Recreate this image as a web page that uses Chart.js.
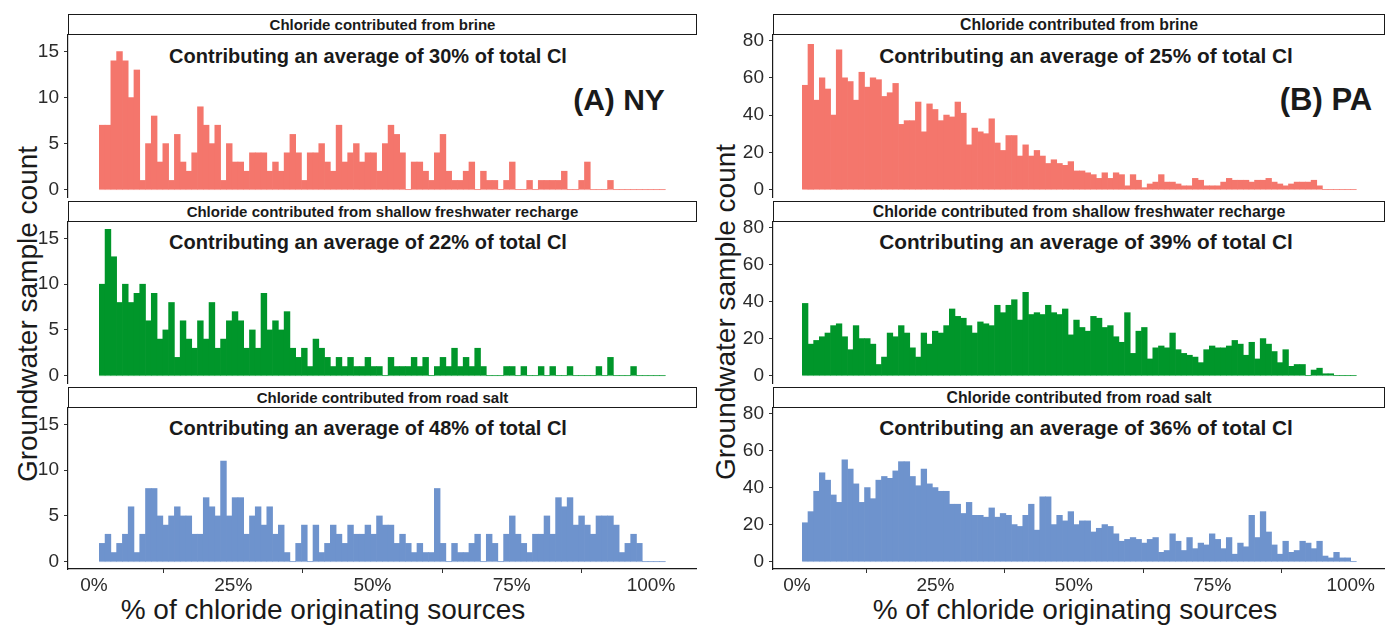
<!DOCTYPE html>
<html><head><meta charset="utf-8">
<script src="https://cdn.jsdelivr.net/npm/chart.js@4.4.1/dist/chart.umd.min.js"></script>
<style>
body{margin:0;background:#fff;width:1387px;height:626px;position:relative;overflow:hidden;font-family:'Liberation Sans',Arial,sans-serif;}
canvas{position:absolute;}
.strip{position:absolute;box-sizing:border-box;border:1.5px solid #1a1a1a;background:#fff;font-weight:bold;color:#1a1a1a;display:flex;align-items:center;justify-content:center;}
.sl{font-size:15px;}
.sr{font-size:15.8px;}
.t{position:absolute;transform:translate(-50%,-50%);white-space:nowrap;color:#1a1a1a;}
.sub{font-weight:bold;font-size:20px;}
.subr{font-weight:bold;font-size:20.8px;}
.tag{font-weight:bold;font-size:30px;}
.tagr{font-weight:bold;font-size:31px;}
.axt{font-size:28px;}
.rot{transform:translate(-50%,-50%) rotate(-90deg);}
</style></head><body>

<div class="strip sl" style="left:68px;top:14px;width:629px;height:21px;">Chloride contributed from brine</div>
<div class="strip sl" style="left:68px;top:201px;width:629px;height:21px;">Chloride contributed from shallow freshwater recharge</div>
<div class="strip sl" style="left:68px;top:387px;width:629px;height:21px;">Chloride contributed from road salt</div>
<div class="strip sr" style="left:773px;top:14px;width:612px;height:21px;">Chloride contributed from brine</div>
<div class="strip sr" style="left:773px;top:201px;width:612px;height:21px;">Chloride contributed from shallow freshwater recharge</div>
<div class="strip sr" style="left:773px;top:387px;width:612px;height:21px;">Chloride contributed from road salt</div>

<div class="t sub" style="left:368px;top:56px;">Contributing an average of 30% of total Cl</div>
<div class="t sub" style="left:368px;top:242px;">Contributing an average of 22% of total Cl</div>
<div class="t sub" style="left:368px;top:428px;">Contributing an average of 48% of total Cl</div>
<div class="t subr" style="left:1086px;top:56px;">Contributing an average of 25% of total Cl</div>
<div class="t subr" style="left:1086px;top:242px;">Contributing an average of 39% of total Cl</div>
<div class="t subr" style="left:1086px;top:428px;">Contributing an average of 36% of total Cl</div>

<div class="t tag" style="left:619px;top:100px;">(A) NY</div>
<div class="t tagr" style="left:1326px;top:100px;">(B) PA</div>

<div class="t axt rot" style="left:28px;top:314px;">Groundwater sample count</div>
<div class="t axt rot" style="left:726px;top:312px;">Groundwater sample count</div>
<div class="t axt" style="left:323px;top:610px;">% of chloride originating sources</div>
<div class="t axt" style="left:1075px;top:610px;">% of chloride originating sources</div>

<script>
// ---- data (counts per histogram bin, 98 bins each) ----
const nyBrine = [7,7,14,15,14,10,13,1,5,8,3,5,1,6,3,2,4,9,7,5,7,1,5,3,3,2,4,4,4,2,3,2,4,6,4,1,4,4,5,3,2,7,3,4,5,3,4,4,2,5,
                 7,6,4,0,3,3,2,1,4,6,2,1,1,2,3,0,2,1,1,0,1,3,0,0,1,0,1,1,1,1,2,0,0,1,3,0,0,0,1,0,0,0,0,0,0,0,0,0];
const nyFresh = [10,16,13,8,10,8,9,10,6,9,4,5,8,2,6,4,3,6,4,8,3,4,6,7,6,3,5,3,9,5,6,5,7,3,2,3,1,4,3,2,1,2,1,2,1,1,2,1,1,0,
                 2,1,1,1,2,1,2,0,1,2,1,3,1,2,1,3,1,0,0,0,1,1,0,1,0,0,1,0,1,0,0,1,0,0,0,0,1,0,2,0,0,0,1,0,0,0,0,0];
const nyRoad  = [2,3,1,2,3,6,1,3,8,8,5,4,5,6,5,5,3,3,7,6,5,11,5,7,7,3,5,6,4,6,3,4,1,0,2,4,0,4,1,2,4,3,2,4,3,3,4,3,5,4,
                 4,2,3,2,1,2,1,1,8,2,0,2,1,1,2,3,0,3,2,0,3,5,3,2,1,3,3,5,3,7,6,7,4,5,4,3,5,5,5,4,1,2,3,2,0,0,0,0];
const paBrine = [56,78,48,60,54,40,75,60,58,48,63,55,60,59,50,52,57,35,37,37,47,31,46,43,37,40,39,47,41,24,33,31,30,38,25,21,29,29,18,24,18,21,18,14,16,14,13,15,10,10,
                 9,8,6,9,6,9,8,2,8,5,1,3,4,8,4,4,3,2,2,6,5,2,2,2,4,6,5,5,5,4,5,5,6,4,3,2,3,4,4,4,5,2,0,0,0,0,0,0];
const paFresh = [39,17,19,21,23,27,28,21,14,27,20,20,17,6,10,23,21,27,23,15,10,23,17,24,23,27,36,32,31,27,23,29,28,27,38,34,38,41,30,45,33,34,33,38,34,33,36,22,30,26,
                 24,32,31,26,27,21,18,34,12,24,26,9,15,16,15,23,14,12,11,10,7,14,16,15,15,16,19,17,11,18,9,20,17,13,7,14,5,6,6,0,3,4,1,1,0,0,0,0];
const paRoad  = [21,27,38,48,44,36,32,55,50,42,32,40,34,44,46,45,49,54,54,46,41,50,42,40,38,38,31,31,26,32,25,25,24,29,24,26,25,20,19,25,31,17,35,35,20,25,22,27,20,22,
                 22,16,18,20,19,15,11,12,13,12,10,12,13,5,6,15,11,6,13,7,10,9,15,12,7,13,4,10,8,25,13,27,16,9,4,11,5,6,11,10,7,11,3,2,5,2,2,0];

// bin edges (in % of chloride)
const nyBinStart = 0.95, nyBinWidth = 1.037;
const paBinStart = 0.96, paBinWidth = 1.021;

// tick labels
const xTickValues = [0, 25, 50, 75, 100];
const xTickLabels = ['0%', '25%', '50%', '75%', '100%'];
const nyYTicks = [0, 5, 10, 15];
const paYTicks = [0, 20, 40, 60, 80];

const RED = '#F4766C', GREEN = '#00962A', BLUE = '#6E93CD';
const RED_F = 'rgba(244,118,108,0.3)', GREEN_F = 'rgba(0,150,42,0.3)', BLUE_F = 'rgba(110,147,205,0.3)';
const FONT = "'Liberation Sans', Arial, sans-serif";
const PAD_T = 12, PAD_B = 12, X_AXIS_H = 30;

function panel(o){
  const cv = document.createElement('canvas');
  const h = PAD_T + o.plotH + (o.showX ? X_AXIS_H : PAD_B);
  cv.width = o.w; cv.height = h;
  cv.style.left = o.left + 'px'; cv.style.top = (o.plotTop - PAD_T) + 'px';
  document.body.appendChild(cv);
  const bars = o.counts.map((c, i) => ({x: o.bin0 + (i + 0.5) * o.binW, y: c}));
  const base = [{x: o.bin0, y: 0}, {x: o.bin0 + o.counts.length * o.binW, y: 0}];
  new Chart(cv, {
    type: 'bar',
    data: {datasets: [
      {type: 'bar', data: bars, backgroundColor: o.color, borderWidth: 0, barPercentage: 1, categoryPercentage: 1, order: 1},
      {type: 'line', data: base, borderColor: o.fade, borderWidth: 1, pointRadius: 0, order: 2}
    ]},
    options: {
      responsive: false, animation: false, events: [],
      layout: {padding: {top: PAD_T, bottom: o.showX ? 0 : PAD_B, left: 0, right: 0}},
      plugins: {legend: {display: false}, tooltip: {enabled: false}},
      scales: {
        x: {
          type: 'linear', min: o.xMin, max: o.xMax, offset: false, display: o.showX,
          afterBuildTicks: s => { s.ticks = xTickValues.map(v => ({value: v})); },
          afterFit: s => { if (o.showX) s.height = X_AXIS_H; s.paddingLeft = 0; s.paddingRight = 0; },
          ticks: {callback: (v, i) => xTickLabels[i], color: '#2b2b2b', font: {family: FONT, size: 19}, padding: 1, maxRotation: 0},
          grid: {display: true, drawOnChartArea: false, drawTicks: true, tickLength: 4, color: '#333'},
          border: {display: true, color: '#1a1a1a', width: 1.2}
        },
        y: {
          type: 'linear', min: o.yMin, max: o.yMax,
          afterBuildTicks: s => { s.ticks = o.yTicks.map(v => ({value: v})); },
          afterFit: s => { s.width = 48; s.paddingTop = 0; s.paddingBottom = 0; },
          ticks: {callback: v => String(v), color: '#2b2b2b', font: {family: FONT, size: 19}, padding: 5},
          grid: {display: true, drawOnChartArea: false, drawTicks: true, tickLength: 4, color: '#333'},
          border: {display: true, color: '#1a1a1a', width: 1.2}
        }
      }
    }
  });
}

const NYX = {left: 20, w: 677, bin0: nyBinStart, binW: nyBinWidth, xMin: -4.67, xMax: 108.26, yMin: -0.8, yMax: 16.8, yTicks: nyYTicks};
const PAX = {left: 725, w: 660, bin0: paBinStart, binW: paBinWidth, xMin: -4.34, xMax: 106.2, yMin: -4, yMax: 83, yTicks: paYTicks};

panel(Object.assign({}, NYX, {plotTop: 35,  plotH: 162, counts: nyBrine, color: RED,   fade: RED_F,   showX: false}));
panel(Object.assign({}, NYX, {plotTop: 222, plotH: 161, counts: nyFresh, color: GREEN, fade: GREEN_F, showX: false}));
panel(Object.assign({}, NYX, {plotTop: 408, plotH: 161, counts: nyRoad,  color: BLUE,  fade: BLUE_F,  showX: true}));
panel(Object.assign({}, PAX, {plotTop: 35,  plotH: 162, counts: paBrine, color: RED,   fade: RED_F,   showX: false}));
panel(Object.assign({}, PAX, {plotTop: 222, plotH: 161, counts: paFresh, color: GREEN, fade: GREEN_F, showX: false}));
panel(Object.assign({}, PAX, {plotTop: 408, plotH: 161, counts: paRoad,  color: BLUE,  fade: BLUE_F,  showX: true}));
</script>
</body></html>
